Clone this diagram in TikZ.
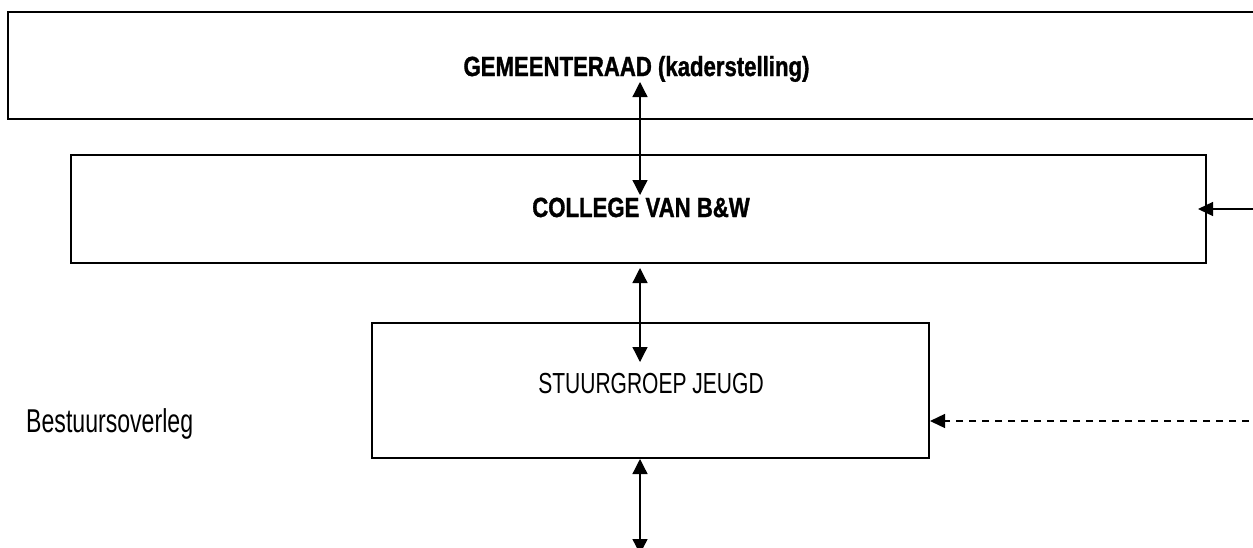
\documentclass[tikz,border=0pt]{standalone}
\usepackage{fontspec}
\usetikzlibrary{arrows.meta}
\newfontfamily\fbnarrow[FakeStretch=0.80,BoldFeatures={FakeBold=1.2}]{Liberation Sans}
\newfontfamily\frnarrow[FakeStretch=0.725]{Liberation Sans}
\newfontfamily\frnarrowb[FakeStretch=0.70]{Liberation Sans}
\tikzset{
  boxshape/.style={draw, line width=2pt, inner sep=0pt},
  boldlabel/.style={anchor=base, inner sep=0pt, font=\fbnarrow\bfseries\fontsize{27.7}{32}\selectfont},
  reglabel/.style={anchor=base, inner sep=0pt, font=\frnarrow\fontsize{29}{34}\selectfont},
  sidelabel/.style={anchor=base west, inner sep=0pt, font=\frnarrowb\fontsize{33}{38}\selectfont},
  link/.style={line width=1.3pt, {Triangle[length=15pt,width=15pt]}-{Triangle[length=15pt,width=15pt]}},
  inlink/.style={line width=1.4pt, -{Triangle[length=15pt,width=14pt]}},
}
\begin{document}
\begin{tikzpicture}[x=1pt,y=-1pt]
\clip (0,0) rectangle (1253,547);
\fill[white] (0,0) rectangle (1253,547);
% boxes
\node[boxshape, minimum width=1256pt, minimum height=107pt] (raad) at (636,65.5) {};
\node[boxshape, minimum width=1135pt, minimum height=108pt] (college) at (638.5,209) {};
\node[boxshape, minimum width=557pt, minimum height=135pt] (stuur) at (650.5,390.5) {};
% labels
\node[boldlabel] (traad) at (636.5,76) {GEMEENTERAAD (kaderstelling)};
\node[boldlabel] (tcollege) at (641,217) {COLLEGE VAN B\&W};
\node[reglabel] (tstuur) at (651,393) {STUURGROEP JEUGD};
\node[sidelabel] (tbestuur) at (26,432) {Bestuursoverleg};
% connector end points
\coordinate (a1) at (640,82);
\coordinate (a2) at (640,195);
\coordinate (b1) at (640,268);
\coordinate (b2) at (640,362);
\coordinate (c1) at (640,459);
\coordinate (c2) at (640,554);
\coordinate (r1) at (1262,209);
\coordinate (r2) at (1198,209);
\coordinate (d1) at (1262,421);
\coordinate (d2) at (930,421);
% connectors
\draw[link] (a1) -- (a2);
\draw[link] (b1) -- (b2);
\draw[link] (c1) -- (c2);
\draw[inlink] (r1) -- (r2);
\draw[inlink, dash pattern=on 7pt off 6pt] (d1) -- (d2);
\end{tikzpicture}
\end{document}
